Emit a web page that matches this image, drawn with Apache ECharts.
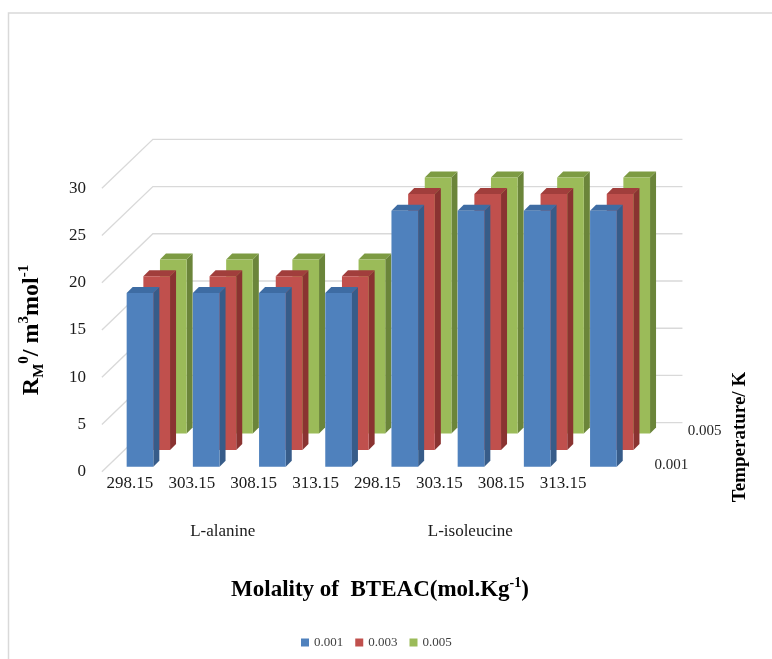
<!DOCTYPE html>
<html>
<head>
    <meta charset="utf-8" />
    <title>RM0 3D columns</title>
    <script src="https://cdn.jsdelivr.net/npm/echarts@6/dist/echarts.min.js"></script>
    <style>
        html, body { margin: 0; padding: 0; background: #fff; }
        #chart { width: 772px; height: 659px; }
    </style>
</head>
<body>
    <div id="chart"></div>
    <script type="text/javascript">
        // temperatures (K) and solutes
        const temps = ['298.15', '303.15', '308.15', '313.15', '298.15', '303.15', '308.15', '313.15'];
        const solutes = ['L-alanine', 'L-isoleucine'];
        // molality of BTEAC - one series per molality
        const seriesNames = ['0.001', '0.003', '0.005'];
        const rm001 = [18.4, 18.4, 18.4, 18.4, 27.1, 27.1, 27.1, 27.1];
        const rm003 = [18.4, 18.4, 18.4, 18.4, 27.1, 27.1, 27.1, 27.1];
        const rm005 = [18.4, 18.4, 18.4, 18.4, 27.1, 27.1, 27.1, 27.1];
        const yTicks = [0, 5, 10, 15, 20, 25, 30];
        const depthTicks = ['0.001', '', '0.005'];

        const SERIF = '"Liberation Serif", "Times New Roman", serif';
        // colours: front / top / side
        const faces = [
            ['#4f81bd', '#3e6ca3', '#375c89'],
            ['#c0504d', '#a13e3c', '#8a3331'],
            ['#9bbb59', '#7d9b43', '#6b853a']
        ];
        const depth = [5, 21.7, 38.3];   // px shift of each row into the chart
        const BOX = 6;                  // px depth of a single column
        const BACK = 49;                // px shift of the back wall
        const BAR_FRAC = 0.403;

        const chart = echarts.init(document.getElementById('chart'));

        function barRender(si) {
            return function (params, api) {
                const cat = api.value(0);
                const p0 = api.coord([cat, 0]);
                const p1 = api.coord([cat, api.value(1)]);
                const band = api.size([1, 0])[0];
                const bw = band * BAR_FRAC;
                const d = depth[si];
                const x0 = p0[0] - bw / 2 + d;
                const x1 = x0 + bw;
                const yb = p0[1] - d;
                const yt = p1[1] - d;
                const c = faces[si];
                const kids = [
                    { type: 'polygon', shape: { points: [[x1, yt], [x1 + BOX, yt - BOX], [x1 + BOX, yb - BOX], [x1, yb]] }, style: { fill: c[2] } },
                    { type: 'polygon', shape: { points: [[x0, yt], [x1, yt], [x1 + BOX, yt - BOX], [x0 + BOX, yt - BOX]] }, style: { fill: c[1] } },
                    { type: 'rect', shape: { x: x0, y: yt, width: bw, height: yb - yt }, style: { fill: c[0] } }
                ];
                if (params.dataIndex === temps.length - 1 && depthTicks[si]) {
                    kids.push({
                        type: 'text',
                        x: p0[0] + band / 2 + d + 18,
                        y: p0[1] - d - 2,
                        style: { text: depthTicks[si], fill: '#262626', fontSize: 15, fontFamily: SERIF, align: 'left', verticalAlign: 'middle' }
                    });
                }
                return { type: 'group', children: kids };
            };
        }

        const values = [rm001, rm003, rm005];
        const barSeries = [2, 1, 0].map(function (si) {
            return {
                name: seriesNames[si],
                type: 'custom',
                xAxisIndex: 0,
                yAxisIndex: 0,
                clip: false,
                z: 5,
                itemStyle: { color: faces[si][0] },
                renderItem: barRender(si),
                encode: { x: 0, y: 1 },
                data: values[si].map(function (v, i) { return [i, v]; })
            };
        });

        const gridSeries = {
            type: 'custom',
            xAxisIndex: 0,
            yAxisIndex: 0,
            clip: false,
            silent: true,
            z: 1,
            renderItem: function (params, api) {
                const p = api.coord([0, api.value(1)]);
                const band = api.size([1, 0])[0];
                const left = p[0] - band / 2;
                const right = left + band * temps.length;
                return {
                    type: 'polyline',
                    shape: { points: [[left, p[1]], [left + BACK * 1.04, p[1] - BACK], [right + BACK * 1.04, p[1] - BACK]] },
                    style: { stroke: '#d9d9d9', lineWidth: 1.3, fill: null }
                };
            },
            encode: { x: 0, y: 1 },
            data: yTicks.map(function (v) { return [0, v]; })
        };

        const option = {
            backgroundColor: '#fff',
            animation: false,
            grid: [
                { left: 101.9, right: 140.5, top: 188.3, bottom: 187.3 },
                { left: 99, right: 178, top: 450, height: 20 },
                { left: 99, right: 178, top: 508, height: 10 }
            ],
            xAxis: [
                { gridIndex: 0, type: 'category', data: temps, show: false },
                {
                    gridIndex: 1, type: 'category', data: temps,
                    axisLine: { show: false }, axisTick: { show: false },
                    axisLabel: { margin: 5, fontSize: 17, fontFamily: SERIF, color: '#1a1a1a', interval: 0 }
                },
                {
                    gridIndex: 2, type: 'category', data: solutes,
                    axisLine: { show: false }, axisTick: { show: false },
                    axisLabel: { margin: 5, fontSize: 17, fontFamily: SERIF, color: '#1a1a1a', interval: 0 }
                }
            ],
            yAxis: [
                {
                    gridIndex: 0, type: 'value', min: 0, max: 30, interval: 5,
                    axisLine: { show: false }, axisTick: { show: false }, splitLine: { show: false },
                    axisLabel: { margin: 16, fontSize: 17, fontFamily: SERIF, color: '#1a1a1a' },
                    name: '{b|R}{sub|M}{sup|0}{b|/ m}{sup|3}{b|mol}{sup|-1}',
                    nameLocation: 'middle',
                    nameGap: 55,
                    nameRotate: 90,
                    nameTextStyle: {
                        rich: {
                            b: { fontSize: 24, fontWeight: 'bold', fontFamily: SERIF, color: '#000', lineHeight: 30 },
                            sub: { fontSize: 15, fontWeight: 'bold', fontFamily: SERIF, color: '#000', lineHeight: 14, verticalAlign: 'bottom' },
                            sup: { fontSize: 15, fontWeight: 'bold', fontFamily: SERIF, color: '#000', lineHeight: 14, verticalAlign: 'top' }
                        }
                    }
                },
                { gridIndex: 1, type: 'value', show: false },
                { gridIndex: 2, type: 'value', show: false }
            ],
            legend: {
                data: seriesNames,
                left: 296,
                top: 631,
                icon: 'rect',
                itemWidth: 8,
                itemHeight: 8,
                itemGap: 12,
                textStyle: { fontSize: 13, fontFamily: SERIF, color: '#404040' }
            },
            graphic: [
                {
                    type: 'rect', silent: true,
                    shape: { x: 8.5, y: 13, width: 900, height: 900 },
                    style: { fill: null, stroke: '#d9d9d9', lineWidth: 1.5 }
                },
                {
                    type: 'text', x: 380, y: 590,
                    style: {
                        text: '{b|Molality of  BTEAC(mol.Kg}{sup|-1}{b|)}',
                        align: 'center', verticalAlign: 'middle',
                        rich: {
                            b: { fontSize: 23, fontWeight: 'bold', fontFamily: SERIF, fill: '#000', lineHeight: 28 },
                            sup: { fontSize: 14, fontWeight: 'bold', fontFamily: SERIF, fill: '#000', lineHeight: 13, verticalAlign: 'top' }
                        }
                    }
                },
                {
                    type: 'text', x: 740, y: 437, rotation: Math.PI / 2,
                    style: {
                        text: 'Temperature/ K', align: 'center', verticalAlign: 'middle',
                        fontSize: 19, fontWeight: 'bold', fontFamily: SERIF, fill: '#000'
                    }
                }
            ],
            series: [gridSeries].concat(barSeries)
        };
        chart.setOption(option);
    </script>
</body>
</html>
